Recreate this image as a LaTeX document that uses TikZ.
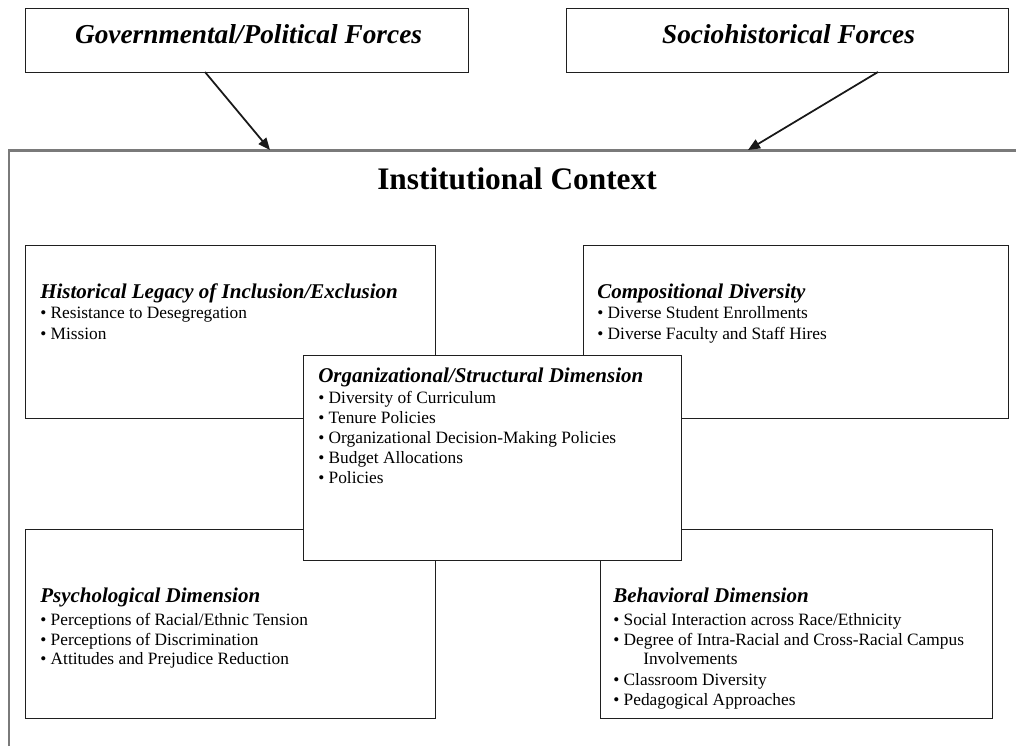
\documentclass[tikz,border=0pt]{standalone}
\usepackage{fontspec}
\setmainfont{Liberation Serif}
\usetikzlibrary{arrows.meta}
\begin{document}
\begin{tikzpicture}[x=0.75pt,y=-0.75pt,
  box/.style={draw=black!88, line width=1.1pt, fill=white, inner sep=0pt, anchor=north west},
  ctx/.style={draw=black!52, line width=1.7pt},
  link/.style={draw=black!90, line width=1.3pt, -{Triangle[length=9pt,width=7.5pt]}},
  ttl/.style={font=\fontsize{20.5}{24}\selectfont\bfseries\itshape, inner sep=0pt, anchor=base},
  maintitle/.style={font=\fontsize{23.5}{28}\selectfont\bfseries, inner sep=0pt, anchor=base},
  hd/.style={font=\fontsize{15.75}{18}\selectfont\bfseries\itshape, anchor=base west, inner sep=0pt},
  itm/.style={font=\fontsize{13}{15}\selectfont, anchor=base west, inner sep=0pt},
]
\fill[white] (0,0) rectangle (1016,746);
\useasboundingbox (0,0) rectangle (1016,746);

% institutional context frame (open at right and bottom)
\coordinate (ctxbl) at (9,746);
\coordinate (ctxtl) at (9,150.5);
\coordinate (ctxtr) at (1016,150.5);
\draw[ctx] (ctxbl) -- (ctxtl) -- (ctxtr);
\coordinate (ctxg) at (270,150);
\coordinate (ctxs) at (748,150);

% top boxes
\node[box, minimum width=332.25pt, minimum height=48pt] (gov) at (25,8) {};
\node[box, minimum width=331.5pt, minimum height=48pt] (soc) at (566,8) {};
\node[ttl] (govt) at (248.5,43) {Governmental/Political Forces};
\node[ttl] (soct) at (788.5,43) {Sociohistorical Forces};

\coordinate (govout) at (205,72);
\coordinate (socout) at (878,72);
\draw[link] (govout) -- (ctxg);
\draw[link] (socout) -- (ctxs);

\node[maintitle] (ctxt) at (517,189) {Institutional Context};

% dimension boxes
\node[box, minimum width=307.5pt, minimum height=129.75pt] (hist) at (25,245) {};
\node[box, minimum width=318.75pt, minimum height=129.75pt] (comp) at (583,245) {};
\node[box, minimum width=307.5pt, minimum height=141.75pt] (psy) at (25,529) {};
\node[box, minimum width=294pt, minimum height=141.75pt] (beh) at (600,529) {};
\node[box, minimum width=283.5pt, minimum height=153.75pt] (org) at (303,355) {};

% historical legacy
\node[hd] (histh) at (40,298) {Historical Legacy of Inclusion/Exclusion};
\node[itm] (hist1) at (40,318) {• Resistance to Desegregation};
\node[itm] (hist2) at (40,339) {• Mission};

% compositional diversity
\node[hd] (comph) at (597,298) {Compositional Diversity};
\node[itm] (comp1) at (597,318) {• Diverse Student Enrollments};
\node[itm] (comp2) at (597,339) {• Diverse Faculty and Staff Hires};

% organizational / structural
\node[hd] (orgh) at (318,382) {Organizational/Structural Dimension};
\node[itm] (org1) at (318,403) {• Diversity of Curriculum};
\node[itm] (org2) at (318,423) {• Tenure Policies};
\node[itm] (org3) at (318,443) {• Organizational Decision-Making Policies};
\node[itm] (org4) at (318,463) {• Budget Allocations};
\node[itm] (org5) at (318,483) {• Policies};

% psychological
\node[hd] (psyh) at (40,602) {Psychological Dimension};
\node[itm] (psy1) at (40,625) {• Perceptions of Racial/Ethnic Tension};
\node[itm] (psy2) at (40,645) {• Perceptions of Discrimination};
\node[itm] (psy3) at (40,664) {• Attitudes and Prejudice Reduction};

% behavioral
\node[hd] (behh) at (613,602) {Behavioral Dimension};
\node[itm] (beh1) at (613,625) {• Social Interaction across Race/Ethnicity};
\node[itm] (beh2) at (613,645) {• Degree of Intra-Racial and Cross-Racial Campus};
\node[itm] (beh2b) at (643,664) {Involvements};
\node[itm] (beh3) at (613,685) {• Classroom Diversity};
\node[itm] (beh4) at (613,705) {• Pedagogical Approaches};
\end{tikzpicture}
\end{document}
